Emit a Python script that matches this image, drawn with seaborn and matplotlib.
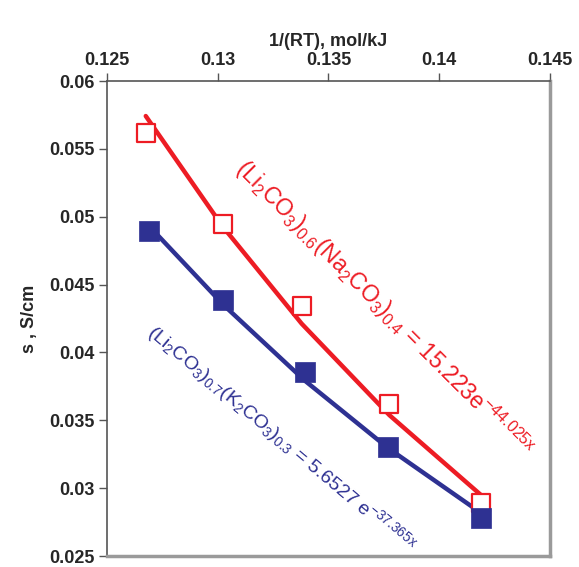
import numpy as np
import pandas as pd
import matplotlib
matplotlib.use('Agg')
import matplotlib.pyplot as plt
from matplotlib.ticker import FuncFormatter, MultipleLocator
import seaborn as sns

# data
inv_rt_na = [0.12675, 0.13022, 0.13379, 0.13775, 0.14189]
sigma_na = [0.0562, 0.04946, 0.04342, 0.0362, 0.02888]
inv_rt_k = [0.12691, 0.13025, 0.13394, 0.13770, 0.14189]
sigma_k = [0.04895, 0.04386, 0.03858, 0.03305, 0.02778]

# exponential trendline coefficients shown on the chart
fit_na = (15.223, -44.025)
fit_k = (5.6527, -37.365)

RED = '#ED1C24'
BLUE = '#2E3192'

sns.set_style('white')
plt.rcParams.update({
    'font.family': ['Liberation Sans', 'DejaVu Sans'],
    'mathtext.fontset': 'custom',
    'mathtext.rm': 'Liberation Sans',
    'mathtext.it': 'Liberation Sans',
    'mathtext.bf': 'Liberation Sans:bold',
})

df_na = pd.DataFrame({'x': inv_rt_na, 'y': sigma_na})
df_k = pd.DataFrame({'x': inv_rt_k, 'y': sigma_k})
df_na['trend'] = fit_na[0] * np.exp(fit_na[1] * df_na['x'])
df_k['trend'] = fit_k[0] * np.exp(fit_k[1] * df_k['x'])

fig = plt.figure(figsize=(5.79, 5.67), dpi=100)
ax = fig.add_axes([0.1848, 0.0194, 0.7651, 0.8377])

sns.lineplot(data=df_na, x='x', y='trend', color=RED, linewidth=3.2, ax=ax)
sns.lineplot(data=df_k, x='x', y='trend', color=BLUE, linewidth=3.2, ax=ax)
sns.scatterplot(data=df_na, x='x', y='y', marker='s', s=150, facecolor='white',
                edgecolor=RED, linewidth=1.6, ax=ax, zorder=3)
sns.scatterplot(data=df_k, x='x', y='y', marker='s', s=190, color=BLUE,
                edgecolor=BLUE, linewidth=0.5, ax=ax, zorder=3)

ax.set_xlim(0.125, 0.145)
ax.set_ylim(0.025, 0.06)
ax.xaxis.set_major_locator(MultipleLocator(0.005))
ax.yaxis.set_major_locator(MultipleLocator(0.005))
fmt = FuncFormatter(lambda v, p: f'{v:g}')
ax.xaxis.set_major_formatter(fmt)
ax.yaxis.set_major_formatter(fmt)
ax.xaxis.tick_top()
ax.xaxis.set_label_position('top')
ax.tick_params(axis='both', direction='out', length=6, width=1, color='#555555',
               labelsize=13, pad=3)
ax.tick_params(axis='x', bottom=False, top=True)
ax.tick_params(axis='y', left=True, right=False)
for lab in ax.get_xticklabels() + ax.get_yticklabels():
    lab.set_fontweight('bold')

ax.set_xlabel('1/(RT), mol/kJ', fontsize=13, fontweight='bold', labelpad=4)
ax.set_ylabel('s , S/cm', fontsize=13, fontweight='bold', labelpad=8)

for side in ['left', 'top']:
    ax.spines[side].set_color('#555555')
    ax.spines[side].set_linewidth(1.2)
for side in ['right', 'bottom']:
    ax.spines[side].set_color('#9a9a9a')
    ax.spines[side].set_linewidth(2.5)

ax.text(0.1305, 0.0531,
        r'$(\mathrm{Li_2CO_3})_{0.6}(\mathrm{Na_2CO_3})_{0.4}$ = 15.223e$^{-44.025x}$',
        color=RED, fontsize=16.5, rotation=-45, rotation_mode='anchor',
        ha='left', va='bottom')
ax.text(0.1266, 0.0410,
        r'$(\mathrm{Li_2CO_3})_{0.7}(\mathrm{K_2CO_3})_{0.3}$ = 5.6527 e$^{-37.365x}$',
        color=BLUE, fontsize=14, rotation=-40, rotation_mode='anchor',
        ha='left', va='bottom')

fig.savefig('out.png', dpi=100)
